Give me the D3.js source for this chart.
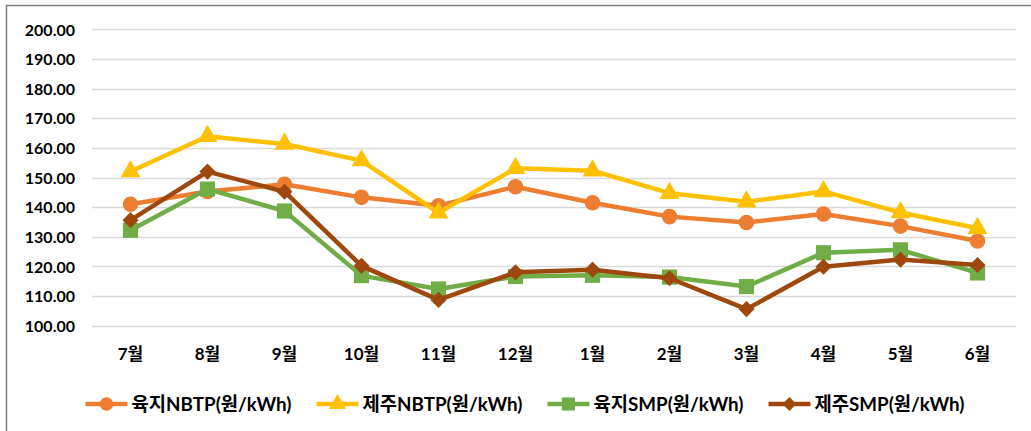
<!DOCTYPE html>
<html>
<head>
<meta charset="utf-8">
<script src="https://cdn.jsdelivr.net/npm/d3@7"></script>
<style>
    body { margin: 0; background: #fff; }
    text { font-family: Lato, "Noto Sans CJK KR", sans-serif; font-weight: bold; fill: #000; }
</style>
</head>
<body>
<div id="chart"></div>
<script>
// data
const months = ["7월", "8월", "9월", "10월", "11월", "12월", "1월", "2월", "3월", "4월", "5월", "6월"];
const yTicks = [100, 110, 120, 130, 140, 150, 160, 170, 180, 190, 200];

const landNbtp = [141.0, 145.3, 147.7, 143.3, 140.5, 146.9, 141.5, 136.8, 134.8, 137.7, 133.6, 128.6];
const jejuNbtp = [152.0, 163.9, 161.3, 155.7, 138.1, 153.1, 152.3, 144.7, 141.8, 145.3, 138.2, 132.9];
const landSmp = [132.2, 146.1, 138.7, 116.9, 112.4, 116.6, 117.0, 116.4, 113.2, 124.6, 125.6, 117.8];
const jejuSmp = [135.6, 152.0, 145.2, 120.2, 108.7, 118.0, 118.9, 116.0, 105.6, 119.9, 122.3, 120.5];

const seriesNames = ["육지NBTP(원/kWh)", "제주NBTP(원/kWh)", "육지SMP(원/kWh)", "제주SMP(원/kWh)"];
const seriesValues = [landNbtp, jejuNbtp, landSmp, jejuSmp];
const seriesColors = ["#ED7D31", "#FFC000", "#70AD47", "#9E480E"];
const seriesSymbols = [d3.symbolCircle, d3.symbolTriangle, d3.symbolSquare, d3.symbolSquare];
const symbolSizes = [190, 170, 230, 130];
const symbolRotate = [0, 0, 0, 45];

const width = 1031, height = 431;
const plot = {left: 92, right: 1016, top: 29.3, bottom: 325.7};

const svg = d3.select("#chart")
    .append("svg")
    .attr("width", width)
    .attr("height", height);

// chart border (only top and left are inside the picture)
svg.append("path")
    .attr("d", "M6.5,440V5.5H1040")
    .attr("fill", "none")
    .attr("stroke", "#7f7f7f")
    .attr("stroke-width", 1.5);

let x = d3.scaleBand()
    .domain(months)
    .range([plot.left, plot.right]);

let y = d3.scaleLinear()
    .domain([100, 200])
    .range([plot.bottom, plot.top]);

// grid lines
svg.append("g")
    .selectAll("line")
    .data(yTicks)
    .enter()
    .append("line")
    .attr("x1", plot.left)
    .attr("x2", plot.right)
    .attr("y1", d => Math.round(y(d)) + 0.5)
    .attr("y2", d => Math.round(y(d)) + 0.5)
    .attr("stroke", "#D9D9D9")
    .attr("stroke-width", 1.3);

// y axis labels
let yAxis = svg.append("g")
    .attr("transform", `translate(${plot.left - 17},0)`)
    .call(d3.axisLeft(y).tickValues(yTicks).tickFormat(d3.format(".2f")).tickSize(0).tickPadding(0));
yAxis.select(".domain").remove();
yAxis.selectAll("text")
    .attr("font-size", 16)
    .attr("font-family", null)
    .attr("dy", "0.36em");

// x axis labels
let xAxis = svg.append("g")
    .attr("transform", `translate(0,${plot.bottom + 21})`)
    .call(d3.axisBottom(x).tickSize(0).tickPadding(0));
xAxis.select(".domain").remove();
xAxis.selectAll("text")
    .attr("font-size", 17)
    .attr("font-family", null)
    .attr("dy", "0.8em");

// lines and markers
let line = d3.line()
    .x((d, i) => x(months[i]) + x.bandwidth() / 2)
    .y(d => y(d));

seriesValues.forEach((vals, k) => {
    let g = svg.append("g");
    g.append("path")
        .datum(vals)
        .attr("d", line)
        .attr("fill", "none")
        .attr("stroke", seriesColors[k])
        .attr("stroke-width", 4.5)
        .attr("stroke-linejoin", "round");
    g.selectAll("path.mark")
        .data(vals)
        .enter()
        .append("path")
        .attr("class", "mark")
        .attr("d", d3.symbol().type(seriesSymbols[k]).size(symbolSizes[k]))
        .attr("transform", (d, i) => `translate(${x(months[i]) + x.bandwidth() / 2},${y(d)}) rotate(${symbolRotate[k]})`)
        .attr("fill", seriesColors[k]);
});

// legend
let legend = svg.append("g");
let legendY = 404;
let items = [];
seriesNames.forEach((name, k) => {
    let g = legend.append("g");
    g.append("line")
        .attr("x1", 0).attr("x2", 42)
        .attr("y1", legendY).attr("y2", legendY)
        .attr("stroke", seriesColors[k])
        .attr("stroke-width", 4.5);
    g.append("path")
        .attr("d", d3.symbol().type(seriesSymbols[k]).size(symbolSizes[k] * 0.75))
        .attr("transform", `translate(21,${legendY}) rotate(${symbolRotate[k]})`)
        .attr("fill", seriesColors[k]);
    let t = g.append("text")
        .attr("x", 46)
        .attr("y", legendY)
        .attr("dy", "0.36em")
        .attr("font-size", 18.8)
        .text(name);
    items.push({g: g, w: 46 + t.node().getComputedTextLength()});
});
let gap = 25;
let total = d3.sum(items, d => d.w) + gap * (items.length - 1);
let lx = 525 - total / 2;
items.forEach(it => {
    it.g.attr("transform", `translate(${lx},0)`);
    lx += it.w + gap;
});
</script>
</body>
</html>
